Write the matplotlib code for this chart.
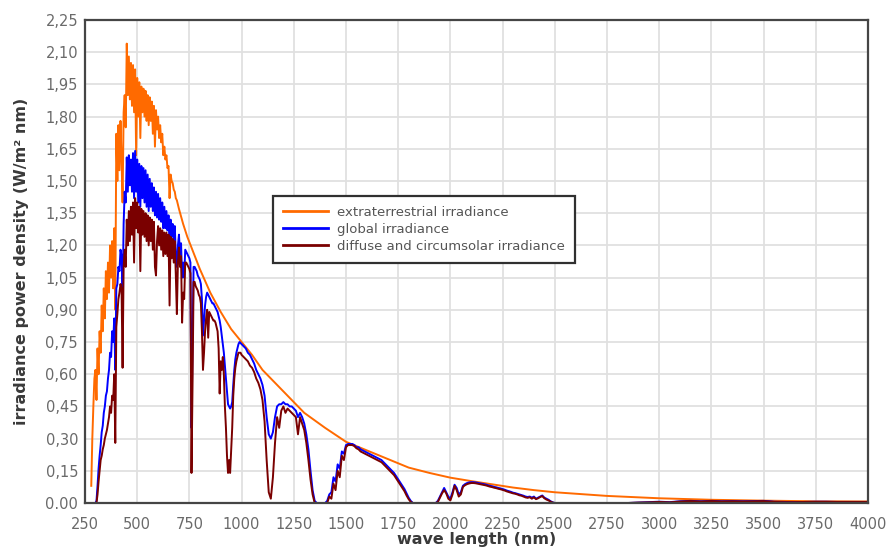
import numpy as np
import matplotlib
matplotlib.use("Agg")
import matplotlib.pyplot as plt

# ---- spectral irradiance data, W/(m^2 nm) ----
# sampling grids (nm)
wl_uv_vis = np.arange(280, 1001, 5)
wl_nir = np.arange(1010, 2501, 10)
wl_ir = np.arange(2550, 4001, 50)

# extraterrestrial spectrum
wl_et_vis = np.arange(280, 701, 5)
et_vis = [
    0.08, 0.30, 0.45, 0.58, 0.62, 0.48, 0.72, 0.60, 0.80, 0.70,
    0.92, 0.80, 1.00, 0.86, 1.08, 0.95, 1.12, 0.98, 1.20, 1.05,
    1.22, 1.00, 1.28, 0.90, 1.72, 1.50, 1.76, 1.55, 1.78, 1.60,
    1.40, 1.82, 1.90, 1.75, 2.14, 1.90, 2.08, 1.88, 2.05, 1.85,
    2.04, 1.82, 2.02, 1.62, 1.98, 1.80, 1.96, 1.70, 1.94, 1.82,
    1.93, 1.80, 1.92, 1.78, 1.90, 1.76, 1.89, 1.78, 1.87, 1.72,
    1.85, 1.66, 1.83, 1.74, 1.80, 1.70, 1.76, 1.68, 1.72, 1.62,
    1.66, 1.60, 1.62, 1.56, 1.57, 1.42, 1.53, 1.50, 1.49, 1.46,
    1.45, 1.42, 1.41, 1.39, 1.37,
]
wl_et_tail = [720, 740, 760, 780, 800, 850, 900, 950, 1000, 1050, 1100,
              1150, 1200, 1250, 1300, 1400, 1500, 1600, 1700, 1800, 1900,
              2000, 2100, 2200, 2300, 2400, 2500, 2750, 3000, 3250, 3500,
              3750, 4000]
et_tail = [1.30, 1.24, 1.19, 1.14, 1.09, 0.98, 0.89, 0.81, 0.75, 0.69, 0.62,
           0.57, 0.52, 0.47, 0.42, 0.35, 0.285, 0.245, 0.205, 0.165, 0.14,
           0.118, 0.102, 0.087, 0.072, 0.06, 0.05, 0.033, 0.022, 0.015, 0.011,
           0.008, 0.007]

# global irradiance
global_uv_vis = [
    0, 0, 0, 0, 0, 0.01, 0.08, 0.16, 0.22, 0.27,
    0.33, 0.36, 0.42, 0.45, 0.50, 0.52, 0.58, 0.62, 0.70, 0.68,
    0.80, 0.75, 0.86, 0.62, 1.00, 1.02, 1.10, 1.08, 1.18, 1.15,
    0.95, 1.30, 1.45, 1.40, 1.61, 1.45, 1.62, 1.48, 1.60, 1.45,
    1.63, 1.42, 1.64, 1.45, 1.60, 1.40, 1.58, 1.38, 1.57, 1.42,
    1.56, 1.40, 1.55, 1.38, 1.53, 1.36, 1.51, 1.38, 1.49, 1.36,
    1.47, 1.34, 1.45, 1.33, 1.44, 1.32, 1.42, 1.31, 1.40, 1.28,
    1.38, 1.28, 1.36, 1.27, 1.34, 1.20, 1.32, 1.24, 1.30, 1.22,
    1.29, 1.15, 1.10, 1.20, 1.25, 1.16, 1.21, 1.05, 1.12, 1.05,
    1.18, 1.17, 1.16, 1.15, 1.14, 1.12, 0.35, 0.75, 1.10, 1.10,
    1.09, 1.08, 1.06, 1.05, 1.04, 1.02, 0.95, 0.78, 0.85, 0.92,
    0.96, 0.98, 0.97, 0.96, 0.95, 0.94, 0.93, 0.93, 0.92, 0.91,
    0.90, 0.89, 0.87, 0.85, 0.82, 0.78, 0.74, 0.70, 0.64, 0.58,
    0.52, 0.46, 0.45, 0.44, 0.45, 0.47, 0.55, 0.62, 0.67, 0.70,
    0.72, 0.74, 0.75, 0.745, 0.74,
]
global_nir = [
    0.73, 0.72, 0.70, 0.69, 0.67, 0.65, 0.62, 0.60, 0.58, 0.55,
    0.50, 0.40, 0.32, 0.30, 0.33, 0.40, 0.45, 0.46, 0.46, 0.47,
    0.46, 0.46, 0.45, 0.45, 0.44, 0.43, 0.40, 0.42, 0.40, 0.37,
    0.32, 0.25, 0.15, 0.06, 0.01, 0, 0, 0, 0, 0,
    0.01, 0.04, 0.05, 0.12, 0.10, 0.18, 0.16, 0.24, 0.23, 0.27,
    0.275, 0.275, 0.275, 0.27, 0.26, 0.26, 0.25, 0.245, 0.24, 0.235,
    0.23, 0.225, 0.22, 0.215, 0.21, 0.205, 0.20, 0.19, 0.18, 0.17,
    0.16, 0.15, 0.14, 0.125, 0.11, 0.095, 0.08, 0.065, 0.045, 0.025,
    0.01, 0, 0, 0, 0, 0, 0, 0, 0, 0,
    0, 0, 0, 0.01, 0.03, 0.05, 0.07, 0.05, 0.03, 0.02,
    0.05, 0.085, 0.07, 0.04, 0.05, 0.08, 0.088, 0.093, 0.096, 0.097,
    0.097, 0.096, 0.094, 0.092, 0.09, 0.088, 0.086, 0.083, 0.08, 0.078,
    0.075, 0.073, 0.07, 0.068, 0.065, 0.062, 0.058, 0.055, 0.052, 0.048,
    0.046, 0.043, 0.04, 0.037, 0.034, 0.03, 0.028, 0.03, 0.025, 0.03,
    0.02, 0.025, 0.03, 0.035, 0.025, 0.02, 0.015, 0.008, 0.003, 0,
]
global_ir = [
    0, 0, 0, 0, 0, 0, 0, 0.002, 0.004, 0.006,
    0.004, 0.008, 0.01, 0.008, 0.01, 0.008, 0.009, 0.008, 0.009, 0.01,
    0.006, 0.005, 0.004, 0.005, 0.006, 0.006, 0.005, 0.005, 0.005, 0.005,
]

# diffuse and circumsolar irradiance
diffuse_uv_vis = [
    0, 0, 0, 0, 0, 0, 0.04, 0.10, 0.15, 0.20,
    0.22, 0.25, 0.27, 0.30, 0.32, 0.34, 0.37, 0.40, 0.45, 0.42,
    0.50, 0.48, 0.60, 0.28, 0.82, 0.88, 0.95, 0.98, 1.02, 1.00,
    0.63, 1.10, 1.18, 1.10, 1.32, 1.20, 1.36, 1.22, 1.38, 1.25,
    1.40, 1.12, 1.42, 1.28, 1.40, 1.26, 1.38, 1.08, 1.37, 1.25,
    1.36, 1.24, 1.35, 1.22, 1.34, 1.20, 1.33, 1.22, 1.32, 1.18,
    1.31, 1.10, 1.06, 1.22, 1.29, 1.20, 1.28, 1.18, 1.27, 1.15,
    1.26, 1.16, 1.26, 1.15, 1.25, 0.92, 1.24, 1.14, 1.23, 1.12,
    1.22, 1.06, 0.88, 1.12, 1.19, 1.10, 1.15, 0.84, 0.98, 0.95,
    1.12, 1.12, 1.11, 1.10, 1.09, 1.07, 0.14, 0.55, 1.03, 1.03,
    1.01, 1.00, 0.99, 0.97, 0.96, 0.93, 0.80, 0.62, 0.70, 0.80,
    0.86, 0.90, 0.77, 0.89, 0.88, 0.87, 0.86, 0.85, 0.85, 0.84,
    0.82, 0.80, 0.72, 0.51, 0.66, 0.62, 0.68, 0.60, 0.45, 0.35,
    0.22, 0.14, 0.20, 0.14, 0.25, 0.35, 0.50, 0.58, 0.63, 0.66,
    0.68, 0.70, 0.70, 0.70, 0.69,
]
diffuse_nir = [
    0.68, 0.67, 0.66, 0.64, 0.63, 0.61, 0.58, 0.56, 0.53, 0.48,
    0.38, 0.20, 0.05, 0.02, 0.12, 0.28, 0.40, 0.35, 0.43, 0.45,
    0.42, 0.44, 0.43, 0.42, 0.41, 0.40, 0.32, 0.40, 0.37, 0.34,
    0.28, 0.20, 0.11, 0.04, 0, 0, 0, 0, 0, 0,
    0, 0.03, 0.02, 0.09, 0.06, 0.15, 0.12, 0.22, 0.20, 0.26,
    0.27, 0.27, 0.27, 0.265, 0.255, 0.25, 0.24, 0.235, 0.23, 0.225,
    0.22, 0.215, 0.21, 0.205, 0.20, 0.195, 0.19, 0.18, 0.17, 0.16,
    0.15, 0.14, 0.13, 0.115, 0.10, 0.085, 0.07, 0.055, 0.035, 0.018,
    0.005, 0, 0, 0, 0, 0, 0, 0, 0, 0,
    0, 0, 0, 0.005, 0.025, 0.045, 0.06, 0.045, 0.02, 0.012,
    0.04, 0.08, 0.06, 0.03, 0.04, 0.075, 0.083, 0.088, 0.091, 0.093,
    0.093, 0.092, 0.09, 0.088, 0.086, 0.084, 0.082, 0.079, 0.076, 0.074,
    0.071, 0.069, 0.066, 0.064, 0.061, 0.058, 0.054, 0.051, 0.048, 0.045,
    0.043, 0.04, 0.036, 0.034, 0.03, 0.026, 0.024, 0.027, 0.02, 0.026,
    0.018, 0.022, 0.028, 0.032, 0.022, 0.016, 0.012, 0.006, 0.002, 0,
]
diffuse_ir = [
    0, 0, 0, 0, 0, 0, 0, 0.002, 0.003, 0.005,
    0.003, 0.007, 0.009, 0.007, 0.009, 0.007, 0.008, 0.007, 0.008, 0.009,
    0.005, 0.004, 0.004, 0.005, 0.005, 0.005, 0.005, 0.005, 0.005, 0.005,
]

series_labels = ["extraterrestrial irradiance", "global irradiance",
                 "diffuse and circumsolar irradiance"]
series_colors = ["#ff6a00", "#0000ff", "#7a0000"]

x_ticks = list(range(250, 4001, 250))
y_ticks = [0.00, 0.15, 0.30, 0.45, 0.60, 0.75, 0.90, 1.05, 1.20, 1.35,
           1.50, 1.65, 1.80, 1.95, 2.10, 2.25]
y_tick_labels = ["0.00", "0,15", "0,30", "0,45", "0,60", "0,75", "0,90",
                 "1,05", "1,20", "1,35", "1,50", "1,65", "1,80", "1,95",
                 "2,10", "2,25"]

# ---- assemble series ----
wl_et = np.concatenate([wl_et_vis, wl_et_tail])
et = np.concatenate([et_vis, et_tail])
wl_sky = np.concatenate([wl_uv_vis, wl_nir, wl_ir])
glob = np.concatenate([global_uv_vis, global_nir, global_ir])
diffuse = np.concatenate([diffuse_uv_vis, diffuse_nir, diffuse_ir])

# ---- figure ----
W, H = 890, 550
fig = plt.figure(figsize=(W / 100, H / 100), dpi=100)
fig.patch.set_facecolor("white")
ax = fig.add_axes([85 / W, 1 - 503 / H, (868 - 85) / W, (503 - 20) / H])

lw = 1.4
ax.plot(wl_et, et, color=series_colors[0], lw=lw, label=series_labels[0], zorder=3)
ax.plot(wl_sky, glob, color=series_colors[1], lw=lw, label=series_labels[1], zorder=4)
ax.plot(wl_sky, diffuse, color=series_colors[2], lw=lw, label=series_labels[2], zorder=5)

ax.set_xlim(250, 4000)
ax.set_ylim(0, 2.25)
ax.set_xticks(x_ticks)
ax.set_yticks(y_ticks)
ax.set_yticklabels(y_tick_labels)

ax.grid(True, color="#e0e0e0", lw=1.3, zorder=0)
ax.set_axisbelow(True)
ax.tick_params(length=0, labelsize=10.5, labelcolor="#6a6a6a")
ax.tick_params(axis="x", pad=10)
ax.tick_params(axis="y", pad=5)

for sp in ax.spines.values():
    sp.set_color("#454545")
    sp.set_linewidth(1.6)
    sp.set_zorder(6)

ax.set_xlabel("wave length (nm)", fontsize=11.5, fontweight="bold", color="#3a3a3a")
ax.set_ylabel("irradiance power density (W/m\u00b2 nm)", fontsize=11.5,
              fontweight="bold", color="#3a3a3a")
ax.xaxis.set_label_coords(0.5, -(532 - 503) / 483)
ax.yaxis.set_label_coords((29 - 85) / 783, 0.5)

leg = ax.legend(loc="upper left", bbox_to_anchor=(273 / W, 1 - 196 / H),
                bbox_transform=fig.transFigure, borderaxespad=0,
                fontsize=9.5, labelcolor="#555555", frameon=True,
                fancybox=False, framealpha=1, handlelength=3.4,
                handletextpad=0.7, labelspacing=0.3, borderpad=0.75)
leg.get_frame().set_edgecolor("#303030")
leg.get_frame().set_linewidth(1.6)
for h in leg.get_lines():
    h.set_linewidth(2.0)

fig.savefig("out.png", dpi=100)
